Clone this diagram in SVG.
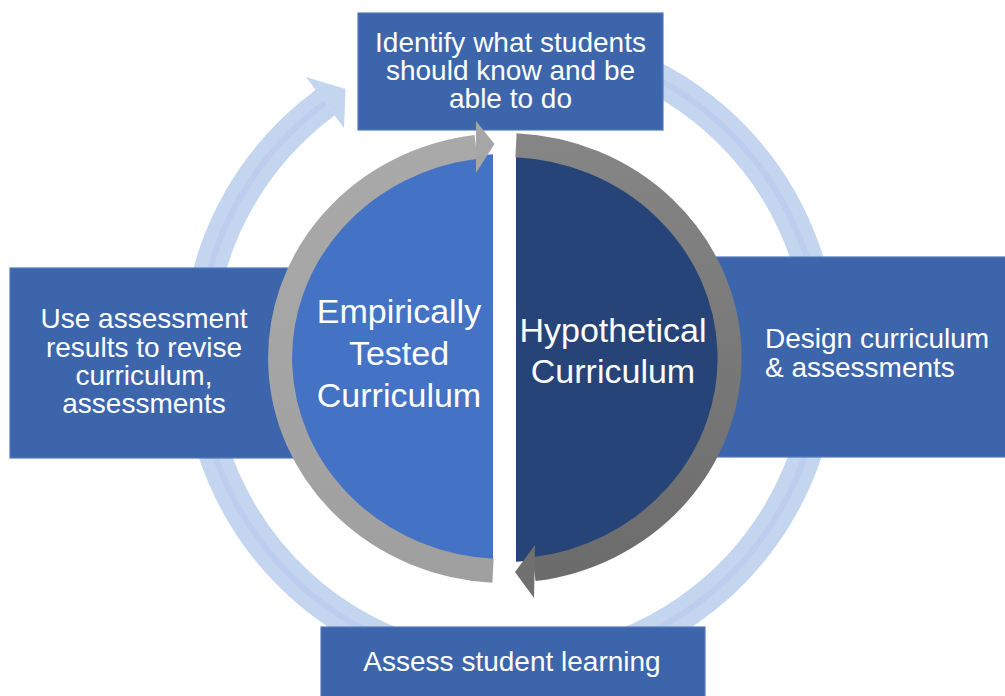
<svg xmlns="http://www.w3.org/2000/svg" width="1005" height="696" viewBox="0 0 1005 696">
<style>
.box{fill:#3d65ab;stroke:#5479bb;stroke-width:1.2}
.t{font-family:"Liberation Sans",Arial,sans-serif;fill:#ffffff;font-size:28px}
.c{font-family:"Liberation Sans",Arial,sans-serif;fill:#ffffff;font-size:34px;text-anchor:middle}
.mid{text-anchor:middle}
</style>
<defs>
<linearGradient id="dg" x1="0" y1="0" x2="0" y2="1">
<stop offset="0" stop-color="#858585"/>
<stop offset="1" stop-color="#6c6c6c"/>
</linearGradient>
<linearGradient id="lg" x1="0" y1="0" x2="0" y2="1">
<stop offset="0" stop-color="#a9a9a9"/>
<stop offset="1" stop-color="#a0a0a0"/>
</linearGradient>
</defs>
<rect width="1005" height="696" fill="#ffffff"/>
<g id="connectors">
<g id="outer-cycle">
<path d="M 616.7 60.8 A 312 312 0 1 1 325.3 102.6" fill="none" stroke="#c4d5f0" stroke-width="32"/>
<path d="M 616.7 60.8 A 312 312 0 1 1 325.3 102.6" fill="none" stroke="#b6caeb" stroke-width="6" transform="translate(0,0)" opacity="0.6"/>
<polygon points="306,77 345.5,89 344,128" fill="#c4d5f0"/>
</g>
</g>
<g id="node-top">
<rect class="box" x="358" y="13" width="305" height="117"/>
<text class="t mid" x="510.5" y="52">Identify what students</text>
<text class="t mid" x="510.5" y="80">should know and be</text>
<text class="t mid" x="510.5" y="108">able to do</text>
</g>
<g id="node-left">
<rect class="box" x="10" y="268" width="290" height="190"/>
<text class="t mid" x="144" y="328">Use assessment</text>
<text class="t mid" x="144" y="357">results to revise</text>
<text class="t mid" x="144" y="385">curriculum,</text>
<text class="t mid" x="144" y="413">assessments</text>
</g>
<g id="node-right">
<rect class="box" x="700" y="257" width="310" height="200"/>
<text class="t" x="765" y="348">Design curriculum</text>
<text class="t" x="765" y="377">&amp; assessments</text>
</g>
<g id="node-bottom">
<rect class="box" x="321" y="627" width="384" height="75"/>
<text class="t mid" x="512" y="671">Assess student learning</text>
</g>
<g id="node-empirical">
<path d="M 493 154.3 A 215 204 0 0 0 493 561.7 Z" fill="#4472c4"/>
<path d="M 493 570.7 A 225 213 0 0 1 476 146.8" fill="none" stroke="url(#lg)" stroke-width="24"/>
<polygon points="476,121 494.5,144 476,173" fill="#a6a6a6"/>
<text class="c" x="399" y="323">Empirically</text>
<text class="c" x="399" y="365">Tested</text>
<text class="c" x="399" y="407">Curriculum</text>
</g>
<g id="node-hypothetical">
<path d="M 516 154.3 A 215 204 0 0 1 516 561.7 Z" fill="#264478"/>
<path d="M 516 145.3 A 225 213 0 0 1 534 569.2" fill="none" stroke="url(#dg)" stroke-width="24"/>
<polygon points="535,545 515,572 534,598" fill="#707070"/>
<text class="c" x="613" y="342">Hypothetical</text>
<text class="c" x="613" y="383">Curriculum</text>
</g>
</svg>
